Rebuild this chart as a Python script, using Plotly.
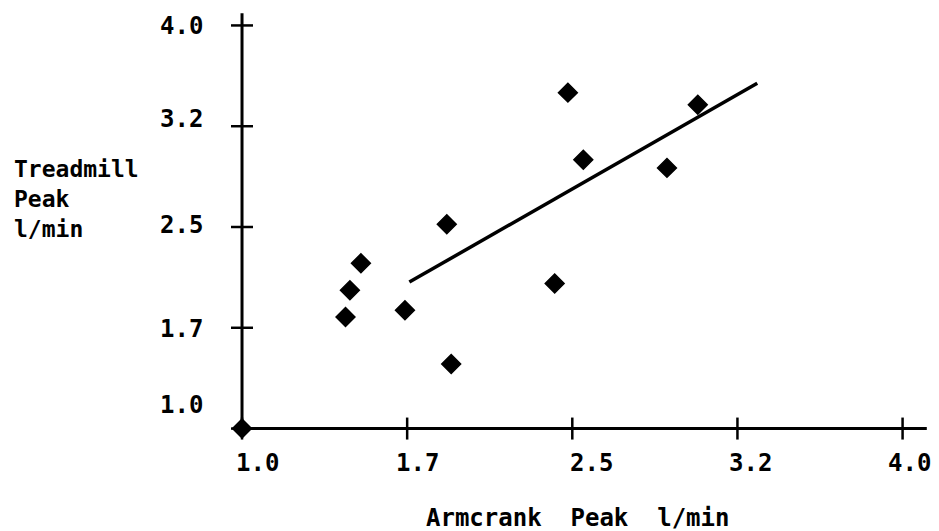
import plotly.graph_objects as go

# ---- data ----
armcrank = [1.00, 2.48, 3.07, 2.55, 2.93, 1.93, 1.54, 1.49, 1.47, 1.74, 2.42, 1.95]
treadmill = [1.00, 3.50, 3.41, 3.00, 2.94, 2.52, 2.23, 2.03, 1.83, 1.88, 2.08, 1.48]
fit_x = [1.76, 3.34]
fit_y = [2.09, 3.57]

x_tickvals = [1.0, 1.75, 2.5, 3.25, 4.0]
x_ticktext = ["1.0", "1.7", "2.5", "3.2", "4.0"]
y_tickvals = [1.0, 1.75, 2.5, 3.25, 4.0]
y_ticktext = ["1.0", "1.7", "2.5", "3.2", "4.0"]

x_title = "Armcrank\u00a0\u00a0Peak\u00a0\u00a0l/min"
y_title = "Treadmill<br>Peak<br>l/min"

# ---- style ----
FONT = dict(family="DejaVu Sans Mono", size=23, color="black", weight=700)
TICKFONT = dict(family="DejaVu Sans Mono", size=24, color="black", weight=700)
x_label_xshift = [15, 10, 19, 13, 7]
y_label_yshift = [24, -1, 2, 7, -1]

fig = go.Figure()
fig.add_trace(go.Scatter(
    x=fit_x, y=fit_y, mode="lines",
    line=dict(color="black", width=3.5), showlegend=False, hoverinfo="skip"))
fig.add_trace(go.Scatter(
    x=armcrank, y=treadmill, mode="markers", cliponaxis=False,
    marker=dict(symbol="diamond", size=14.5, color="black",
                line=dict(color="black", width=1.5)),
    showlegend=False))

shapes = []
# axis lines
shapes.append(dict(type="line", xref="x", yref="y", x0=1.0, x1=4.11, y0=1.0, y1=1.0,
                   line=dict(color="black", width=3)))
shapes.append(dict(type="line", xref="x", yref="y", x0=1.0, x1=1.0, y0=1.0, y1=4.09,
                   line=dict(color="black", width=3)))
# cross ticks
for v in x_tickvals:
    shapes.append(dict(type="line", xref="x", yref="y", x0=v, x1=v,
                       ysizemode="pixel", yanchor=1.0, y0=-11, y1=11,
                       line=dict(color="black", width=2.5)))
for v in y_tickvals:
    shapes.append(dict(type="line", xref="x", yref="y", y0=v, y1=v,
                       xsizemode="pixel", xanchor=1.0, x0=-11, x1=11,
                       line=dict(color="black", width=2.5)))

annotations = []
for v, t, s in zip(x_tickvals, x_ticktext, x_label_xshift):
    annotations.append(dict(x=v, y=1.0, xref="x", yref="y", text=t, showarrow=False,
                            xanchor="center", yanchor="middle", xshift=s, yshift=-34,
                            font=TICKFONT))
for v, t, s in zip(y_tickvals, y_ticktext, y_label_yshift):
    annotations.append(dict(x=1.0, y=v, xref="x", yref="y", text=t, showarrow=False,
                            xanchor="right", yanchor="middle", xshift=-37, yshift=s,
                            font=TICKFONT))
annotations.append(dict(x=578, y=519, xref="paper", yref="paper", text=x_title,
                        showarrow=False, xanchor="center", yanchor="middle",
                        font=TICKFONT))
annotations.append(dict(x=12, y=199, xref="paper", yref="paper", text=y_title,
                        showarrow=False, xanchor="left", yanchor="middle",
                        align="left", font=FONT))

# convert pixel positions of titles into paper coords
W, H = 939, 531
L, R, T, B = 220, 9.6, 11.5, 88.5
pw, ph = W - L - R, H - T - B
for a in annotations[-2:]:
    a["x"] = (a["x"] - L) / pw
    a["y"] = (H - B - a["y"]) / ph

fig.update_layout(
    width=W, height=H,
    margin=dict(l=L, r=R, t=T, b=B, pad=0),
    paper_bgcolor="white", plot_bgcolor="white",
    xaxis=dict(range=[0.9, 4.12], visible=False, fixedrange=True),
    yaxis=dict(range=[0.9, 4.1], visible=False, fixedrange=True),
    shapes=shapes, annotations=annotations,
)

fig.write_html("out.html", config={"displayModeBar": False},
               post_script="document.body.style.margin='0';document.body.style.overflow='hidden';")
